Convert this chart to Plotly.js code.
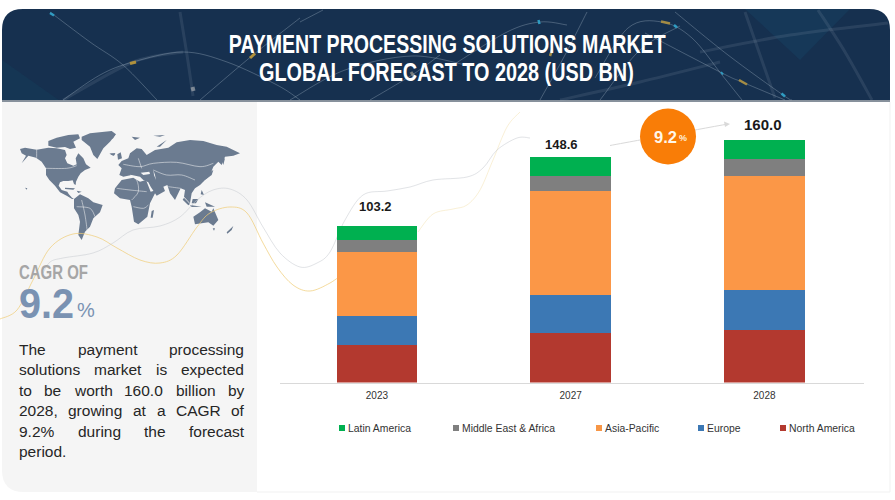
<!DOCTYPE html>
<html><head><meta charset="utf-8">
<script src="https://cdn.plot.ly/plotly-3.0.1.min.js"></script>
<style>html,body{margin:0;padding:0;background:#fff}#chart{width:895px;height:500px}</style>
</head><body><div id="chart"></div>
<script>
// ---------- chart data ----------
const years = ['2023','2027','2028'];
const totals = [103.2,148.6,160.0];
const totalLabels = ['103.2','148.6','160.0'];
const northAmerica = [24.7,32.4,34.7];
const europe = [19.1,25.1,26.4];
const asiaPacific = [42.3,68.6,75.4];
const middleEastAfrica = [7.8,9.9,11.0];
const latinAmerica = [9.3,12.6,12.5];
const titleLines = ['PAYMENT PROCESSING SOLUTIONS MARKET','GLOBAL FORECAST TO 2028 (USD BN)'];
const bodyLines = ['The payment processing','solutions market is expected','to be worth 160.0 billion by','2028, growing at a CAGR of','9.2% during the forecast','period.'];
const legendNames = ['Latin America','Middle East & Africa','Asia-Pacific','Europe','North America'];
const legendColors = ['#00b050','#7f7f7f','#f79646','#3c78b4','#b3392f'];

// ---------- pixel helpers for the decoration ----------
const X = p => p/895, Y = p => 1-p/500;
function poly(pts, ox, oy, s){ return 'M'+pts.map(p=>X(ox+p[0]/s)+','+Y(oy+p[1]/s)).join('L')+'Z'; }
function smooth(pts){
  let d='M'+X(pts[0][0])+','+Y(pts[0][1]);
  for(let i=0;i<pts.length-1;i++){
    const p0=pts[Math.max(i-1,0)],p1=pts[i],p2=pts[i+1],p3=pts[Math.min(i+2,pts.length-1)];
    const c1=[p1[0]+(p2[0]-p0[0])/6,p1[1]+(p2[1]-p0[1])/6],c2=[p2[0]-(p3[0]-p1[0])/6,p2[1]-(p3[1]-p1[1])/6];
    d+='C'+X(c1[0])+','+Y(c1[1])+' '+X(c2[0])+','+Y(c2[1])+' '+X(p2[0])+','+Y(p2[1]);
  }
  return d;
}
const shapes=[];
const pathShape=(path,fill,lineColor,w,layer)=>shapes.push({type:'path',xref:'paper',yref:'paper',path,fillcolor:fill||'rgba(0,0,0,0)',line:{color:lineColor||'rgba(0,0,0,0)',width:w||0},layer:layer||'below'});
const rawPath=d=>d.replace(/(-?\d+\.?\d*),(-?\d+\.?\d*)/g,(m,a,b)=>X(+a)+','+Y(+b));

// header and panels
pathShape(rawPath('M2,101 L2,30 Q2,9 23,9 L869,9 Q890,9 890,30 L890,101 Z'),'#16304f');
pathShape(rawPath('M2,101 L2,60 L60,101 Z'),'rgba(20,70,95,0.30)');
pathShape(rawPath('M745,9 L850,9 L800,60 Z'),'rgba(25,80,115,0.25)');
pathShape(rawPath('M2,101 L257,101 L257,492 L24,492 Q2,492 2,470 Z'),'#f5f5f5');
pathShape(rawPath('M2,100 L890,100 L890,102 L2,102 Z'),'#87919c');
pathShape(rawPath('M257,491.5 L890,491.5 L890,492.5 L257,492.5 Z'),'#f1f1f1');
pathShape(rawPath('M889.5,102 L890.5,102 L890.5,492 L889.5,492 Z'),'#f1f1f1');

// header light streaks
const thin='rgba(190,205,220,0.30)', faint='rgba(170,185,200,0.13)';
[[[50,12],[90,42],[123,65],[157,100]],
 [[63,100],[100,75],[133,62],[183,52],[227,62],[277,85],[300,100]],
 [[200,100],[253,55],[300,18]],
 [[300,22],[323,10]],
 [[453,65],[507,32],[540,22],[567,25]],
 [[290,100],[345,70],[412,56],[470,66]],
 [[540,100],[565,55],[587,12]],
 [[595,78],[628,28],[662,22],[692,38],[722,75],[742,100]],
 [[675,12],[728,55],[783,95],[792,100]],
 [[645,33],[722,73],[742,82],[785,100]],
 [[600,100],[640,50],[680,26]],
 [[370,100],[412,75],[440,55]]
].forEach(c=>pathShape(smooth(c),null,thin,1));
[[[180,12],[187,55],[193,96]],[[818,10],[845,52],[872,100]],[[700,52],[790,35],[888,23]],[[745,12],[775,98]],[[560,100],[640,82],[720,62]],[[63,100],[133,62],[183,52]]]
 .forEach(c=>pathShape(smooth(c),null,faint,3));
[[[50,13],[54,15.5],'#2f9cc2',2.5],[[130,63.5],[136,62],'#b0913c',3],[[250,58],[255,53.5],'#b0913c',3],[[192.5,87],[193.5,91],'rgba(200,200,200,0.55)',4],
 [[538.5,20],[539.5,24],'#2f9cc2',2.5],[[411,72],[415,78],'rgba(200,190,165,0.55)',3],[[661,21.5],[670,23.5],'#a48c45',2.5],[[674,25],[677,27.5],'#2f9cc2',2.5],
 [[781.5,93.5],[785,96.5],'#2f9cc2',2.5],[[739,80],[747,84.5],'#a48c45',2.5],[[721,72],[723,74.5],'#2f9cc2',2],[[552,50],[550,56],'#a48c45',2.5]]
 .forEach(g=>pathShape(smooth([g[0],g[1]]),null,g[2],g[3]));

// world map: west hemisphere (crop coords at 3x from 10,125)
const mapFill='#6b7b90';
[[[30,72],[45,68],[80,74],[115,68],[140,70],[165,75],[170,90],[165,100],[172,115],[190,122],[200,118],[197,100],[205,85],[220,100],[228,118],[242,128],[225,135],[212,145],[205,155],[198,170],[197,180],[192,177],[188,166],[175,168],[160,168],[150,172],[146,182],[155,195],[172,200],[176,207],[186,218],[192,222],[186,222],[170,212],[150,202],[135,182],[118,165],[108,150],[108,130],[95,110],[78,98],[55,92],[35,115],[48,92],[35,85]],
 [[215,35],[240,25],[305,18],[318,28],[300,50],[280,70],[262,102],[250,90],[240,65],[215,45]],
 [[115,48],[140,38],[175,30],[205,28],[210,40],[190,50],[198,68],[180,72],[165,66],[140,68],[115,62]],
 [[165,188],[195,190],[190,194],[165,192]],[[200,197],[215,200],[205,204]],
 [[192,222],[210,208],[235,220],[250,232],[278,240],[270,262],[250,280],[240,305],[225,320],[215,345],[205,330],[210,290],[205,270],[192,250]],
 [[45,188],[52,190],[50,194]],[[298,85],[316,85],[312,92]]
].forEach(p=>pathShape(poly(p,10,125,3),mapFill));
// east hemisphere (crop coords at 3x from 110,125)
[[[25,120],[35,108],[55,100],[60,85],[80,70],[95,72],[110,90],[135,75],[175,68],[200,52],[240,45],[280,48],[320,60],[350,65],[390,85],[370,92],[345,95],[335,120],[325,110],[310,125],[300,150],[285,165],[270,180],[255,190],[245,205],[240,235],[222,215],[225,195],[212,190],[195,225],[180,205],[172,180],[160,185],[165,198],[140,212],[122,185],[115,172],[100,165],[90,155],[65,150],[40,155],[28,150],[35,130]],
 [[15,190],[35,165],[70,158],[90,170],[108,165],[122,200],[140,195],[120,235],[112,275],[85,298],[72,290],[65,245],[60,225],[30,220],[12,205]],
 [[125,258],[132,255],[128,278],[122,278]],
 [[250,275],[270,262],[285,250],[305,260],[310,250],[325,285],[310,302],[295,292],[255,298]],
 [[350,322],[370,303],[365,315],[352,326]],[[308,310],[315,310],[312,317]],
 [[222,218],[240,237],[235,241],[218,224]],[[240,240],[275,245],[245,246]],[[248,222],[265,222],[258,235],[245,235]],
 [[285,232],[315,245],[290,245]],[[275,195],[282,210],[272,208]],[[295,145],[310,135],[305,150],[285,165]],
 [[65,35],[90,38],[75,45]],[[130,32],[165,30],[150,35]],[[140,65],[170,45],[150,65]],[[335,105],[345,100],[340,120]],
 [[22,88],[32,82],[36,100],[24,104]],[[0,30],[16,28],[8,42]],[[0,88],[16,85],[10,92]]
].forEach(p=>pathShape(poly(p,110,125,3),mapFill));
// seas and country borders in the map
pathShape(poly([[92,143],[118,140],[120,147],[100,150]],110,125,3),'#f5f5f5');
pathShape(poly([[130,135],[135,150],[138,165],[132,150]],110,125,3),'#f5f5f5');
[[[60,150],[80,165],[85,200],[65,225]],[[20,190],[60,195],[110,200]],[[70,245],[100,250],[115,240]],[[40,118],[90,125],[130,115],[200,112],[270,125],[310,115]],
 [[130,135],[170,150],[215,150],[255,165]],[[85,100],[95,130]],[[175,185],[212,190]]]
 .forEach(c=>pathShape(smooth(c.map(p=>[110+p[0]/3,125+p[1]/3])),null,'rgba(245,245,245,0.75)',0.7));
[[[80,74],[80,98]],[[108,130],[170,130],[200,122]],[[215,225],[225,270],[232,320]],[[200,245],[240,250],[255,275]]]
 .forEach(c=>pathShape(smooth(c.map(p=>[10+p[0]/3,125+p[1]/3])),null,'rgba(245,245,245,0.75)',0.7));

// sweeping thin curves
const gold='rgba(240,205,120,0.72)';
pathShape(smooth([[0,319],[17,310],[33,280],[50,248],[73,234],[97,237],[117,248],[140,260],[160,263],[177,255],[197,227],[210,213],[230,207],[247,213],[263,243],[277,267],[293,285],[310,291],[330,283],[345,272]]),null,gold,1);
pathShape(smooth([[418,232],[433,214],[453,209],[467,205],[480,190],[493,160],[507,127],[520,112]]),null,'rgba(240,215,150,0.38)',1);
pathShape(smooth([[43,273],[50,262],[63,258],[93,253],[113,243],[133,230],[160,226],[180,217],[197,200],[213,190],[230,189],[247,200],[263,227],[280,253],[300,267],[317,263],[330,252],[345,220],[363,195],[387,191],[410,187],[433,180],[467,177],[483,168],[497,150],[517,138],[530,138]]),null,'rgba(195,200,205,0.5)',1);
pathShape(smooth([[610,145.5],[640,140]]),null,'#d9d9d9',1);
pathShape(smooth([[695,130],[725,124.5]]),null,'#d9d9d9',1);
pathShape(poly([[724,121.5],[730,124],[725,127]],0,0,1),'#d9d9d9');
// growth bubble
shapes.push({type:'circle',xref:'paper',yref:'paper',x0:X(640),x1:X(696),y0:Y(164.5),y1:Y(108.5),fillcolor:'#f97d07',line:{width:0},layer:'below'});

// legend swatches
const legendX=[339,453,596,698,780];
legendX.forEach((x,i)=>shapes.push({type:'rect',xref:'paper',yref:'paper',x0:X(x),x1:X(x+6),y0:Y(431),y1:Y(425),fillcolor:legendColors[i],line:{width:0},layer:'below'}));

// ---------- text ----------
const anns=[];
const txt=(t,x,y,size,color,family,xa)=>anns.push({text:t,xref:'paper',yref:'paper',x:X(x),y:Y(y),xanchor:xa||'left',yanchor:'middle',showarrow:false,borderpad:0,font:{size,color,family}});
const sans='"Liberation Sans"';
txt('<b>'+titleLines[0]+'</b>',446.5,44,25,'#ffffff',sans,'center');
txt('<b>'+titleLines[1]+'</b>',446.5,71.5,25,'#ffffff',sans,'center');
txt('<b>CAGR OF</b>',18,272,20,'#a6a6a6',sans);
txt('<b>9.2</b>',18,303,43,'#7a92b2',sans);
txt('%',75.5,310,20,'#7a92b2',sans);
// justified paragraph, word by word
const bodySize=15.5, left=18, right=243;
const ctx=document.createElement('canvas').getContext('2d'); ctx.font=bodySize+'px '+sans;
bodyLines.forEach((line,i)=>{
  const y=349+i*20.5, words=line.split(' ');
  const w=words.map(s=>ctx.measureText(s).width), sum=w.reduce((a,b)=>a+b,0);
  const gap=(i===bodyLines.length-1||words.length<2)?4:(right-left-sum)/(words.length-1);
  let x=left;
  words.forEach((s,j)=>{txt(s,x,y,bodySize,'#262626',sans);x+=w[j]+gap;});
});
txt('<b>9.2</b>',653,136.5,16.5,'#fff7ea',sans);
txt('<b>%</b>',677.5,138,9,'#fff0dc',sans);
const labelShift=[-1.3,-9,-1.4], labelGap=[20,12.3,15.3], labelSize=[13,13,15];
years.forEach((yr,i)=>anns.push({x:i,y:totals[i],xref:'x',yref:'y',text:'<b>'+totalLabels[i]+'</b>',showarrow:false,xanchor:'center',yanchor:'middle',xshift:labelShift[i],yshift:labelGap[i],borderpad:0,font:{size:labelSize[i],color:'#1a1a1a',family:sans}}));
legendNames.forEach((n,i)=>txt(n,legendX[i]+7.5,428,10.4,'#333333',sans));

// ---------- bars ----------
const bar=(name,y,color)=>({type:'bar',name,x:years,y,marker:{color,line:{width:0}},hoverinfo:'name+y'});
const traces=[bar('North America',northAmerica,'#b3392f'),bar('Europe',europe,'#3c78b4'),bar('Asia-Pacific',asiaPacific,'#fb9747'),bar('Middle East & Africa',middleEastAfrica,'#7f7f7f'),bar('Latin America',latinAmerica,'#00b050')];
Plotly.newPlot('chart',traces,{
  width:895,height:500,barmode:'stack',bargap:0.584,showlegend:false,
  margin:{l:0,r:0,t:0,b:0,pad:0},
  paper_bgcolor:'#ffffff',plot_bgcolor:'rgba(0,0,0,0)',
  xaxis:{domain:[280/895,864/895],type:'category',range:[-0.5,2.514],showgrid:false,zeroline:false,showline:true,linecolor:'#d9d9d9',linewidth:1,ticks:'',tickfont:{size:10,color:'#333333',family:sans},ticklabelstandoff:3},
  yaxis:{domain:[117.5/500,390/500],range:[0,179.7],visible:false,showgrid:false,zeroline:false},
  shapes,annotations:anns
},{displayModeBar:false,staticPlot:true}).then(gd=>{
  // the condensed look of the title and of the CAGR text: squeeze the real text
  const squeeze=[[titleLines[0],437,'c',0],[titleLines[1],375,'c',0],['CAGR OF',69,'l',0],['9.2',55,'l',40]];
  gd.querySelectorAll('.annotation-text').forEach(t=>{
    squeeze.forEach(([key,width,mode,minW])=>{
      if(t.textContent===key){
        const b=t.getBBox(); if(b.width<minW) return;
        const k=width/b.width, a=mode==='l'?b.x:b.x+b.width/2;
        t.setAttribute('transform','translate('+a+',0) scale('+k+',1) translate('+(-a)+',0)');
      }
    });
  });
});
</script></body></html>
